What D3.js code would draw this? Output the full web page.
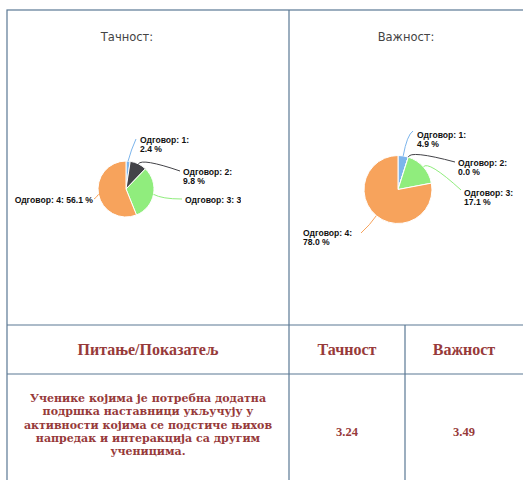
<!DOCTYPE html>
<html>
<head>
<meta charset="utf-8">
<script src="https://cdn.jsdelivr.net/npm/d3@7"></script>
<style>
  body { margin: 0; background: #fff; }
  svg { display: block; }
</style>
</head>
<body>
<div class="chart"></div>
<script>
(() => {
  // data
  const answers = ["Одговор: 1", "Одговор: 2", "Одговор: 3", "Одговор: 4"];
  const accuracyShares = [2.4, 9.8, 31.7, 56.1];
  const importanceShares = [4.9, 0.0, 17.1, 78.0];
  const sliceColors = ["#7cb5ec", "#434348", "#90ed7d", "#f7a35c"];
  const pieTitles = ["Тачност:", "Важност:"];
  const tableHeaders = ["Питање/Показатељ", "Тачност", "Важност"];
  const questionLines = [
    "Ученике којима је потребна додатна",
    "подршка наставници укључују у",
    "активности којима се подстиче њихов",
    "напредак и интеракција са другим",
    "ученицима."
  ];
  const scores = ["3.24", "3.49"];

  const width = 523, height = 480;
  const lineColor = "#5a7894";
  const redText = "#973a3a";

  const svg = d3.select(".chart").append("svg")
    .attr("width", width)
    .attr("height", height);

  // table grid
  const grid = { left: 7, top: 10, mid: 289, right: 524, row1: 325, row2: 374, col2: 405, bottom: 490 };
  const g = svg.append("g").attr("class", "grid")
    .attr("stroke", lineColor).attr("stroke-width", 1.2).attr("fill", "none");
  g.append("rect")
    .attr("x", grid.left).attr("y", grid.top)
    .attr("width", grid.right - grid.left).attr("height", grid.bottom - grid.top);
  g.append("line").attr("x1", grid.mid).attr("x2", grid.mid).attr("y1", grid.top).attr("y2", grid.bottom);
  g.append("line").attr("x1", grid.left).attr("x2", grid.right).attr("y1", grid.row1).attr("y2", grid.row1);
  g.append("line").attr("x1", grid.left).attr("x2", grid.right).attr("y1", grid.row2).attr("y2", grid.row2);
  g.append("line").attr("x1", grid.col2).attr("x2", grid.col2).attr("y1", grid.row1).attr("y2", grid.bottom);

  // pies
  const pie = d3.pie().sort(null).value(d => d.value);

  const charts = [
    {
      title: pieTitles[0], shares: accuracyShares, titleX: 127,
      cx: 126, cy: 189, r: 28, clipRight: 241,
      // first line of each label, elbow of its connector, where the connector ends
      labels: [
        { x: 140, y: 143, elbow: [131, 150], end: [136, 139], anchor: "start", wrap: true },
        { x: 183, y: 175, elbow: [142, 158], end: [180, 171], anchor: "start", wrap: true },
        { x: 185, y: 203, elbow: [162, 199], end: [182, 199], anchor: "start", wrap: false },
        { x: 93, y: 203, elbow: [96, 198], end: [94, 199], anchor: "end", wrap: false }
      ]
    },
    {
      title: pieTitles[1], shares: importanceShares, titleX: 406,
      cx: 398, cy: 189.5, r: 34, clipRight: 600,
      labels: [
        { x: 417, y: 138, elbow: [407, 135], end: [413, 131], anchor: "start", wrap: true },
        { x: 458, y: 166, elbow: [410, 150], end: [455, 162], anchor: "start", wrap: true },
        { x: 464, y: 196, elbow: [428, 160], end: [461, 190], anchor: "start", wrap: true },
        { x: 303, y: 236, elbow: [370, 225], end: [361, 233], anchor: "start", wrap: true }
      ]
    }
  ];

  charts.forEach((c, ci) => {
    const data = answers.map((a, i) => ({ name: a, value: c.shares[i], color: sliceColors[i] }));
    const arcs = pie(data);
    const arc = d3.arc().innerRadius(0).outerRadius(c.r);

    svg.append("clipPath").attr("id", "clip" + ci)
      .append("rect").attr("x", 0).attr("y", 0).attr("width", c.clipRight).attr("height", grid.row1);

    const cg = svg.append("g").attr("clip-path", `url(#clip${ci})`);

    cg.append("text")
      .attr("x", c.titleX).attr("y", 41)
      .attr("text-anchor", "middle")
      .attr("font-family", "DejaVu Sans, sans-serif")
      .attr("font-size", 11.5)
      .attr("fill", "#444")
      .text(c.title);

    const pg = cg.append("g").attr("transform", `translate(${c.cx},${c.cy})`);

    pg.selectAll("path.slice").data(arcs).enter().append("path")
      .attr("class", "slice")
      .attr("d", arc)
      .attr("fill", d => d.data.color)
      .attr("stroke", "#fff")
      .attr("stroke-width", 1);

    // connectors
    pg.selectAll("path.conn").data(arcs).enter().append("path")
      .attr("class", "conn")
      .attr("fill", "none")
      .attr("stroke", d => d.data.color)
      .attr("stroke-width", 1)
      .attr("d", (d, i) => {
        const a = (d.startAngle + d.endAngle) / 2;
        const p0 = [Math.sin(a) * c.r, -Math.cos(a) * c.r];
        const lb = c.labels[i];
        const el = [lb.elbow[0] - c.cx, lb.elbow[1] - c.cy];
        const en = [lb.end[0] - c.cx, lb.end[1] - c.cy];
        return `M${p0[0]},${p0[1]}Q${el[0]},${el[1]} ${en[0]},${en[1]}`;
      });

    // labels
    arcs.forEach((d, i) => {
      const lb = c.labels[i];
      const t = cg.append("text")
        .attr("x", lb.x).attr("y", lb.y)
        .attr("text-anchor", lb.anchor)
        .attr("font-family", "Liberation Sans, Arial, sans-serif")
        .attr("font-weight", "bold")
        .attr("font-size", 8.6)
        .attr("fill", "#111");
      const pct = d.data.value.toFixed(1) + " %";
      if (lb.wrap) {
        t.append("tspan").attr("x", lb.x).text(d.data.name + ":");
        t.append("tspan").attr("x", lb.x).attr("dy", 8.5).text(pct);
      } else {
        t.text(d.data.name + ": " + pct);
      }
    });
  });

  // lower table
  const serif = "Liberation Serif, Times New Roman, serif";
  const headerX = [(grid.left + grid.mid) / 2, (grid.mid + grid.col2) / 2, (grid.col2 + grid.right - 1) / 2];
  svg.append("g").selectAll("text").data(tableHeaders).enter().append("text")
    .attr("x", (d, i) => headerX[i])
    .attr("y", (grid.row1 + grid.row2) / 2 + 5)
    .attr("text-anchor", "middle")
    .attr("font-family", serif)
    .attr("font-weight", "bold")
    .attr("font-size", 16)
    .attr("fill", redText)
    .text(d => d);

  const q = svg.append("text")
    .attr("text-anchor", "middle")
    .attr("font-family", "DejaVu Serif, serif")
    .attr("font-weight", "bold")
    .attr("font-size", 11)
    .attr("fill", redText);
  questionLines.forEach((line, i) => {
    q.append("tspan")
      .attr("x", headerX[0])
      .attr("y", 402 + i * 13.3)
      .text(line);
  });

  svg.append("g").selectAll("text").data(scores).enter().append("text")
    .attr("x", (d, i) => headerX[i + 1])
    .attr("y", 436)
    .attr("text-anchor", "middle")
    .attr("font-family", serif)
    .attr("font-weight", "bold")
    .attr("font-size", 12.5)
    .attr("fill", redText)
    .text(d => d);
})();
</script>
</body>
</html>
